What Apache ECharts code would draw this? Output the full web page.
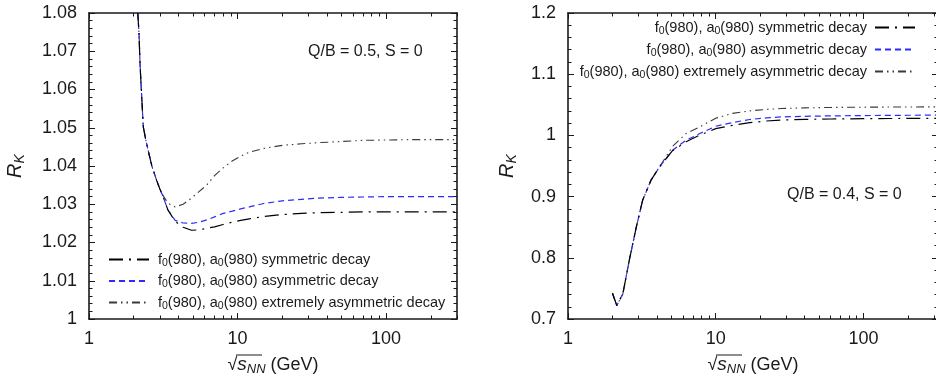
<!DOCTYPE html>
<html>
<head>
<meta charset="utf-8">
<script src="https://cdn.jsdelivr.net/npm/echarts@6/dist/echarts.min.js"></script>
<style>
  html, body { margin: 0; padding: 0; background: #fff; }
  #chart { width: 936px; height: 378px; }
</style>
</head>
<body>
<div id="chart"></div>
<script>
// left panel, Q/B = 0.5, S = 0
const sqrtSLeft = [2.13, 2.17, 2.21, 2.27, 2.32, 2.4, 2.5, 2.65, 2.85, 3.0, 3.16, 3.4, 3.8, 4.3, 4.9, 5.5, 6.2, 7, 8, 9.2, 10.5, 12, 15, 20, 27, 35, 50, 70, 100, 150, 200, 300];
const symLeft = [1.080, 1.0747, 1.0659, 1.0572, 1.0502, 1.0472, 1.0441, 1.0400, 1.0363, 1.0340, 1.0319, 1.0285, 1.0255, 1.0240, 1.0232, 1.0233, 1.0237, 1.0241, 1.0247, 1.0253, 1.0258, 1.0262, 1.0268, 1.0273, 1.0276, 1.0278, 1.0279, 1.0280, 1.0280, 1.0280, 1.0280, 1.0280];
const asymLeft = [1.080, 1.0747, 1.0659, 1.0572, 1.0502, 1.0472, 1.0441, 1.0400, 1.0363, 1.0340, 1.0319, 1.0285, 1.0258, 1.0251, 1.0250, 1.0253, 1.0259, 1.0267, 1.0276, 1.0282, 1.0288, 1.0293, 1.0302, 1.0309, 1.0313, 1.0316, 1.0318, 1.0319, 1.0320, 1.0320, 1.0320, 1.0320];
const extLeft = [1.080, 1.0747, 1.0659, 1.0572, 1.0502, 1.0472, 1.0441, 1.0400, 1.0363, 1.0340, 1.0322, 1.0303, 1.0293, 1.0300, 1.0316, 1.0333, 1.0350, 1.0375, 1.0395, 1.0413, 1.0426, 1.0436, 1.0446, 1.0454, 1.0458, 1.0461, 1.0464, 1.0467, 1.0468, 1.0469, 1.0469, 1.0469];

// right panel, Q/B = 0.4, S = 0
const sqrtSRight = [2.0, 2.14, 2.35, 2.6, 2.9, 3.2, 3.65, 4.15, 5.1, 6.3, 7.8, 10, 13, 17, 22, 28, 40, 60, 100, 150, 200, 320];
const symRight = [0.742, 0.722, 0.741, 0.796, 0.850, 0.894, 0.927, 0.948, 0.975, 0.9895, 1.0005, 1.011, 1.0165, 1.0208, 1.0235, 1.0252, 1.0262, 1.0268, 1.0273, 1.0276, 1.0277, 1.0278];
const asymRight = [0.742, 0.722, 0.741, 0.796, 0.850, 0.894, 0.927, 0.948, 0.9756, 0.9921, 1.003, 1.015, 1.021, 1.026, 1.0285, 1.0303, 1.0312, 1.0319, 1.0324, 1.0327, 1.0329, 1.0331];
const extRight = [0.742, 0.722, 0.741, 0.796, 0.850, 0.894, 0.927, 0.948, 0.982, 1.003, 1.014, 1.028, 1.036, 1.040, 1.0425, 1.044, 1.045, 1.0457, 1.0461, 1.0463, 1.0465, 1.0466];

const seriesNames = [
  'f0(980), a0(980) symmetric decay',
  'f0(980), a0(980) asymmetric decay',
  'f0(980), a0(980) extremely asymmetric decay',
];
const majorX = [1, 10, 100];
const minorX = [2, 3, 4, 5, 6, 7, 8, 9, 20, 30, 40, 50, 60, 70, 80, 90, 200, 300];

const font = 'Liberation Sans, Arial, Helvetica, sans-serif';
const ink = '#1a1a1a';
const lineStyles = [
  { color: '#000', width: 1.2, type: [14, 6, 2, 6] },
  { color: '#2b2bff', width: 1.2, type: [6, 4] },
  { color: '#3a3a3a', width: 1.1, type: [8, 4, 1.5, 4, 1.5, 4] },
];

const zip = (xs, ys) => xs.map((x, i) => [x, ys[i]]);

const subRich = {
  n: { fontSize: 14.5, fontFamily: font, color: ink, lineHeight: 18 },
  s: { fontSize: 10.5, fontFamily: font, color: ink, lineHeight: 18, verticalAlign: 'bottom' },
};
const legendFormatter = (name) => {
  const rest = name.replace('f0(980), a0(980)', '');
  return '{n|f}{s|0}{n|(980), a}{s|0}{n|(980)' + rest + '}';
};

const axisLineStyle = { color: ink, width: 1.6 };

function xAxes(gridIndex, max) {
  const base = {
    type: 'log', logBase: 10, gridIndex, min: 1, max,
    splitLine: { show: false }, minorTick: { show: false },
  };
  const major = { show: true, inside: true, length: 6, customValues: majorX, lineStyle: { color: ink, width: 1 } };
  const minor = { show: true, inside: true, length: 3.5, customValues: minorX, lineStyle: { color: ink, width: 1 } };
  return [
    {
      ...base, position: 'bottom',
      axisLine: { show: true, onZero: false, lineStyle: axisLineStyle },
      axisTick: major,
      axisLabel: { customValues: majorX, margin: 11, fontSize: 18, fontFamily: font, color: ink },
      name: '{r|√}{i|s}{sub|NN}{r| (GeV)}',
      nameLocation: 'middle', nameGap: 35,
      nameTextStyle: {
        rich: {
          r: { fontSize: 18, fontFamily: font, color: ink, lineHeight: 22 },
          i: { fontSize: 19, fontFamily: font, fontStyle: 'italic', color: ink, lineHeight: 22 },
          sub: { fontSize: 13, fontFamily: font, fontStyle: 'italic', color: ink, lineHeight: 22, verticalAlign: 'bottom' },
        },
      },
    },
    { ...base, position: 'bottom', axisLine: { show: false }, axisTick: minor, axisLabel: { show: false } },
    { ...base, position: 'top', axisLine: { show: true, onZero: false, lineStyle: axisLineStyle }, axisTick: major, axisLabel: { show: false } },
    { ...base, position: 'top', axisLine: { show: false }, axisTick: minor, axisLabel: { show: false } },
  ];
}

function yAxes(gridIndex, min, max, interval, nameGap) {
  const base = {
    type: 'value', gridIndex, min, max, interval,
    splitLine: { show: false },
    axisLine: { show: true, onZero: false, lineStyle: axisLineStyle },
    axisTick: { show: true, inside: true, length: 6, lineStyle: { color: ink, width: 1 } },
    minorTick: { show: true, splitNumber: 5, length: 3.5, lineStyle: { color: ink, width: 1 } },
  };
  return [
    {
      ...base, position: 'left',
      axisLabel: { margin: 12, fontSize: 18, fontFamily: font, color: ink },
      name: '{i|R}{sub|K}', nameLocation: 'middle', nameRotate: 90, nameGap,
      nameTextStyle: {
        rich: {
          i: { fontSize: 20, fontFamily: font, fontStyle: 'italic', color: ink, lineHeight: 24 },
          sub: { fontSize: 14, fontFamily: font, fontStyle: 'italic', color: ink, lineHeight: 24, verticalAlign: 'bottom' },
        },
      },
    },
    { ...base, position: 'right', axisLabel: { show: false } },
  ];
}

function panelSeries(xAxisIndex, yAxisIndex, xs, groups) {
  return groups.map((ys, k) => ({
    name: seriesNames[k],
    type: 'line',
    xAxisIndex, yAxisIndex,
    data: zip(xs, ys),
    showSymbol: false,
    symbol: 'none',
    clip: true,
    itemStyle: { color: lineStyles[k].color },
    lineStyle: lineStyles[k],
    z: 3 - k,
  }));
}

// overline of the square root in the x axis titles
const overline = (x) => ({
  type: 'line', shape: { x1: x, y1: 355, x2: x + 26, y2: 355 },
  style: { stroke: ink, lineWidth: 1 },
});

const chart = echarts.init(document.getElementById('chart'), null, { renderer: 'canvas' });
chart.setOption({
  animation: false,
  backgroundColor: '#fff',
  grid: [
    { left: 89, top: 13, width: 368, height: 306, outerBoundsMode: 'none' },
    { left: 568, top: 13, width: 370, height: 306, outerBoundsMode: 'none' },
  ],
  xAxis: [...xAxes(0, 300), ...xAxes(1, 320)],
  yAxis: [...yAxes(0, 1, 1.08, 0.01, 62), ...yAxes(1, 0.7, 1.2, 0.1, 49)],
  legend: [
    {
      orient: 'vertical', left: 108, top: 252, padding: 0, itemWidth: 40, itemHeight: 14, itemGap: 5,
      align: 'left', data: seriesNames, selectedMode: false,
      itemStyle: { opacity: 0 },
      formatter: legendFormatter,
      textStyle: { padding: [0, 0, 0, 4], rich: subRich },
    },
    {
      orient: 'vertical', right: 20, top: 20, padding: 0, itemWidth: 40, itemHeight: 14, itemGap: 5.5,
      align: 'right', data: seriesNames, selectedMode: false,
      itemStyle: { opacity: 0 },
      formatter: legendFormatter,
      textStyle: { padding: [0, 3, 0, 0], rich: subRich },
    },
  ],
  graphic: [
    { type: 'text', left: 308, top: 44, style: { text: 'Q/B = 0.5, S = 0', font: '16px ' + font, fill: ink } },
    { type: 'text', left: 787, top: 187, style: { text: 'Q/B = 0.4, S = 0', font: '16px ' + font, fill: ink } },
    overline(236),
    overline(716),
  ],
  series: [
    ...panelSeries(0, 0, sqrtSLeft, [symLeft, asymLeft, extLeft]),
    ...panelSeries(4, 2, sqrtSRight, [symRight, asymRight, extRight]),
  ],
});
</script>
</body>
</html>
